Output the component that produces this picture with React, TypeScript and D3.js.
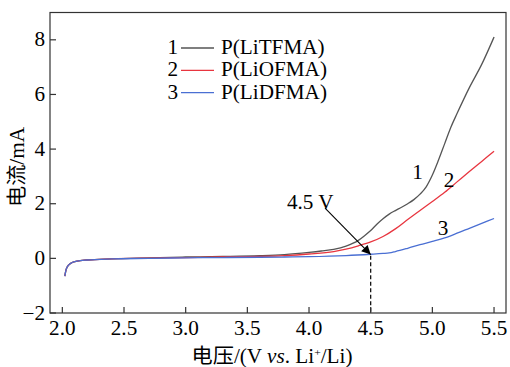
import React from "react";
import * as d3 from "d3";

const grayX = [2.02, 2.03, 2.05, 2.08, 2.12, 2.2, 2.4, 2.7, 3.0, 3.3, 3.6, 3.8, 4.0, 4.1, 4.2, 4.3, 4.4, 4.45, 4.5, 4.55, 4.6, 4.65, 4.7, 4.75, 4.8, 4.85, 4.9, 4.95, 5.0, 5.05, 5.1, 5.15, 5.2, 5.3, 5.4, 5.5];
const grayY = [-0.65, -0.42, -0.25, -0.15, -0.1, -0.06, -0.02, 0.02, 0.05, 0.07, 0.1, 0.14, 0.22, 0.27, 0.33, 0.45, 0.66, 0.83, 1.02, 1.25, 1.45, 1.62, 1.75, 1.87, 2.0, 2.15, 2.35, 2.62, 3.05, 3.6, 4.2, 4.8, 5.3, 6.25, 7.1, 8.1];

const redX = [2.02, 2.03, 2.05, 2.08, 2.12, 2.2, 2.4, 2.7, 3.0, 3.3, 3.6, 3.8, 4.0, 4.2, 4.3, 4.4, 4.5, 4.6, 4.7, 4.8, 4.9, 5.0, 5.1, 5.2, 5.3, 5.4, 5.5];
const redY = [-0.65, -0.42, -0.25, -0.15, -0.1, -0.06, -0.02, 0.01, 0.03, 0.05, 0.07, 0.1, 0.16, 0.25, 0.34, 0.46, 0.6, 0.8, 1.08, 1.42, 1.75, 2.08, 2.42, 2.8, 3.18, 3.55, 3.92];

const blueX = [2.02, 2.03, 2.05, 2.08, 2.12, 2.2, 2.4, 2.7, 3.0, 3.3, 3.6, 3.8, 4.0, 4.3, 4.5, 4.6, 4.65, 4.7, 4.8, 4.9, 5.0, 5.1, 5.2, 5.3, 5.4, 5.5];
const blueY = [-0.65, -0.42, -0.25, -0.15, -0.1, -0.06, -0.02, 0.0, 0.02, 0.03, 0.04, 0.05, 0.06, 0.1, 0.15, 0.18, 0.2, 0.25, 0.37, 0.5, 0.62, 0.75, 0.92, 1.1, 1.28, 1.46];

const xTicks = [2.0, 2.5, 3.0, 3.5, 4.0, 4.5, 5.0, 5.5];
const yTicks = [-2, 0, 2, 4, 6, 8];

const seriesNames = ["P(LiTFMA)", "P(LiOFMA)", "P(LiDFMA)"];
const seriesNums = ["1", "2", "3"];
const colors = ["#555555", "#e8353f", "#4a6fd3"];

const FONT = "'Liberation Serif', 'Times New Roman', 'Noto Sans CJK SC', serif";

export default function App() {
  const W = 510, H = 367;
  const L = 50, R = 506, T = 12.5, B = 313;
  const x = d3.scaleLinear().domain([1.9, 5.597]).range([L, R]);
  const y = d3.scaleLinear().domain([-2, 9]).range([B, T]);
  const line = d3
    .line<[number, number]>()
    .x((d) => x(d[0]))
    .y((d) => y(d[1]))
    .curve(d3.curveMonotoneX);
  const series = [
    grayX.map((v, i) => [v, grayY[i]] as [number, number]),
    redX.map((v, i) => [v, redY[i]] as [number, number]),
    blueX.map((v, i) => [v, blueY[i]] as [number, number]),
  ];
  const order = [0, 1, 2];
  const fs = 20;
  const sx = 1.06;
  const arrowStart: [number, number] = [x(4.13), y(1.84)];
  const arrowEnd: [number, number] = [x(4.5), y(0.14)];
  const T2 = (px: number, py: number, anchor: string, content: React.ReactNode, key?: string) => (
    <text
      key={key}
      transform={`translate(${px},${py}) scale(${sx},1)`}
      fontSize={fs}
      textAnchor={anchor}
    >
      {content}
    </text>
  );
  return (
    <svg
      width={W}
      height={H}
      style={{ position: "absolute", left: 0, top: 0, background: "#fff" }}
      fontFamily={FONT}
    >
      <defs>
        <marker id="ah" viewBox="0 0 10 10" refX="10" refY="5" markerWidth="10" markerHeight="9" markerUnits="userSpaceOnUse" orient="auto">
          <path d="M0,0 L10,5 L0,10 z" fill="#000" />
        </marker>
      </defs>
      {order.map((i) => (
        <path key={i} d={line(series[i]) || ""} fill="none" stroke={colors[i]} strokeWidth={1.3} />
      ))}
      <line x1={x(4.5)} x2={x(4.5)} y1={y(0.1)} y2={B} stroke="#000" strokeWidth={1.2} strokeDasharray="4,2.5" />
      <line
        x1={arrowStart[0]}
        y1={arrowStart[1]}
        x2={arrowEnd[0]}
        y2={arrowEnd[1]}
        stroke="#000"
        strokeWidth={1.1}
        markerEnd="url(#ah)"
      />
      {T2(x(4.01), y(1.8), "middle", "4.5 V")}
      {T2(x(4.88), y(2.9), "middle", "1")}
      {T2(x(5.135), y(2.6), "middle", "2")}
      {T2(x(5.087), y(0.85), "middle", "3")}
      <rect x={L} y={T} width={R - L} height={B - T} fill="none" stroke="#333" strokeWidth={1.2} />
      {xTicks.map((t) => (
        <g key={t}>
          <line x1={x(t)} x2={x(t)} y1={B} y2={B - 6} stroke="#333" strokeWidth={1.2} />
          {T2(x(t), B + 22, "middle", t.toFixed(1))}
        </g>
      ))}
      {yTicks.map((t) => (
        <g key={t}>
          <line x1={L} x2={L + 6} y1={y(t)} y2={y(t)} stroke="#333" strokeWidth={1.2} />
          {T2(45, y(t) + 6.5, "end", t < 0 ? "\u2212" + Math.abs(t) : String(t))}
        </g>
      ))}
      {seriesNames.map((n, i) => (
        <g key={n}>
          {T2(178, 54 + i * 22.3, "end", seriesNums[i])}
          <line x1={181} x2={214} y1={48 + i * 22.3} y2={48 + i * 22.3} stroke={colors[i]} strokeWidth={1.3} />
          {T2(221, 54 + i * 22.3, "start", n)}
        </g>
      ))}
      <text
        transform={`translate(24,${167}) rotate(-90) scale(${sx},1)`}
        fontSize={fs}
        textAnchor="middle"
      >
        电流/mA
      </text>
      {T2(272, 363, "middle", <>
        电压/(V <tspan fontStyle="italic">vs</tspan>. Li<tspan fontSize={11} dy={-7}>+</tspan><tspan dy={7}>/Li)</tspan>
      </>)}
    </svg>
  );
}
